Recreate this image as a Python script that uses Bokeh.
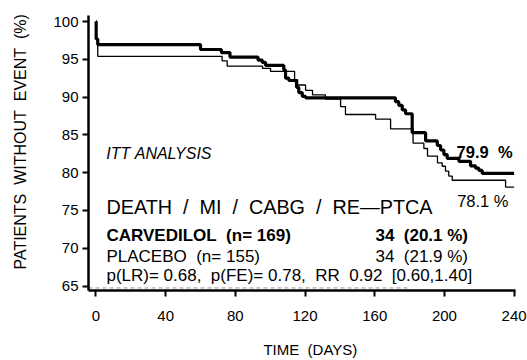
from bokeh.plotting import figure
from bokeh.models import Range1d, Label, FixedTicker
from bokeh.embed import file_html
from bokeh.resources import INLINE

# ---- data ----
carv_days = [0, 0.1, 1.0, 60.0, 72.0, 76.9, 93.0, 95.4, 97.3, 107.8, 108.8, 110.7,
             115.1, 116.4, 118.4, 120.3, 171.9, 173.8, 175.8, 177.7, 181.5, 189.2,
             195.9, 197.8, 199.7, 201.6, 208.3, 215.0, 217.9, 219.8, 221.7, 240.0]
carv_pct = [100, 97.7, 96.95, 96.3, 95.9, 95.3, 94.9, 94.6, 94.2, 93.6, 92.5, 92.2,
            91.3, 90.6, 90.1, 89.9, 89.4, 88.9, 88.3, 87.8, 85.3, 84.2,
            83.6, 83.0, 82.4, 81.9, 81.5, 80.9, 80.6, 80.3, 79.9, 79.9]

plac_days = [0, 0.1, 1.0, 72.4, 75.3, 95.6, 100.2, 114.0, 115.7, 120.3, 124.3, 131.7,
             140.4, 143.2, 160.5, 169.1, 182.0, 188.2, 190.3, 196.0, 198.7, 200.6,
             202.5, 204.5, 235.1, 240.0]
plac_pct = [100, 97.7, 95.4, 94.8, 94.1, 93.8, 93.4, 92.3, 91.6, 90.9, 90.3, 89.75,
            88.75, 87.7, 87.1, 85.8, 83.9, 83.2, 82.2, 81.3, 80.85, 80.2,
            79.55, 79.0, 78.1, 78.1]

x_ticks = [0, 40, 80, 120, 160, 200, 240]
y_ticks = [65, 70, 75, 80, 85, 90, 95, 100]

S = "\u00a0"          # non-breaking space keeps the wide spacing of the original
S2 = S * 2
title_line = S2.join(["DEATH", "/", "MI", "/", "CABG", "/", "RE\u2014PTCA"])
carv_label = "CARVEDILOL" + S2 + "(n=" + S + "169)"
carv_events = "34" + S2 + "(20.1" + S + "%)"
plac_label = "PLACEBO" + S2 + "(n=" + S + "155)"
plac_events = "34" + S2 + "(21.9" + S + "%)"
stats_line = ("p(LR)=" + S + "0.68," + S2 + "p(FE)=" + S + "0.78," + S2 +
              "RR" + S2 + "0.92" + S2 + "[0.60,1.40]")
carv_final = "79.9" + S2 + "%"
plac_final = "78.1" + S + "%"
itt_text = "ITT" + S + "ANALYSIS"
y_title = S * 5 + S2.join(["PATIENTS", "WITHOUT", "EVENT", "(%)"])
x_title = S * 4 + "TIME" + S2 + "(DAYS)"

FONT = "Liberation Sans"

p = figure(width=527, height=360, output_backend="svg", toolbar_location=None,
           x_range=Range1d(-4.3, 240.8), y_range=Range1d(64.41, 100.8),
           min_border_left=88, min_border_right=12, min_border_top=15, min_border_bottom=68)
p.outline_line_color = None
p.xgrid.visible = False
p.ygrid.visible = False
p.background_fill_color = "white"

for ax in (p.xaxis[0], p.yaxis[0]):
    ax.axis_line_width = 2.5
    ax.axis_line_color = "black"
    ax.major_tick_line_width = 2
    ax.major_tick_line_color = "black"
    ax.major_tick_out = 6
    ax.major_tick_in = 0
    ax.minor_tick_line_color = None
    ax.major_label_text_font = FONT
    ax.major_label_text_font_size = "15px"
    ax.major_label_text_color = "black"
    ax.axis_label_text_font = FONT
    ax.axis_label_text_font_style = "normal"
    ax.axis_label_text_color = "black"

p.xaxis.ticker = FixedTicker(ticks=x_ticks)
p.yaxis.ticker = FixedTicker(ticks=y_ticks)
p.xaxis.major_label_standoff = 14
p.yaxis.major_label_standoff = 4

p.yaxis.axis_label = y_title
p.yaxis.axis_label_text_font_size = "16px"
p.yaxis.axis_label_standoff = 21
p.xaxis.axis_label = x_title
p.xaxis.axis_label_text_font_size = "15px"
p.xaxis.axis_label_standoff = 17

# faint dashed line near the bottom
p.line([-4.3, 180], [64.75, 64.75], line_color="#9a9a9a", line_width=1, line_dash="4 3")

# curves
p.step(plac_days, plac_pct, mode="after", line_color="black", line_width=1.3)
p.step(carv_days, carv_pct, mode="after", line_color="black", line_width=3.2)

def add_text(x, y, t, size, style="normal"):
    p.add_layout(Label(x=x, y=y, text=t, text_font=FONT, text_font_size=size,
                       text_font_style=style, text_align="left",
                       text_baseline="alphabetic", text_color="black"))

add_text(5.9, 82.5, itt_text, "16px", "italic")
add_text(207.0, 82.7, carv_final, "16.5px", "bold")
add_text(207.3, 76.27, plac_final, "16.5px")
add_text(6.0, 75.48, title_line, "19.8px")
add_text(6.0, 71.67, carv_label, "17px", "bold")
add_text(160.4, 71.67, carv_events, "17px", "bold")
add_text(6.0, 68.97, plac_label, "17px")
add_text(160.4, 68.97, plac_events, "17px")
add_text(6.0, 66.38, stats_line, "17px")

open("out.html", "w").write(file_html(p, INLINE))
